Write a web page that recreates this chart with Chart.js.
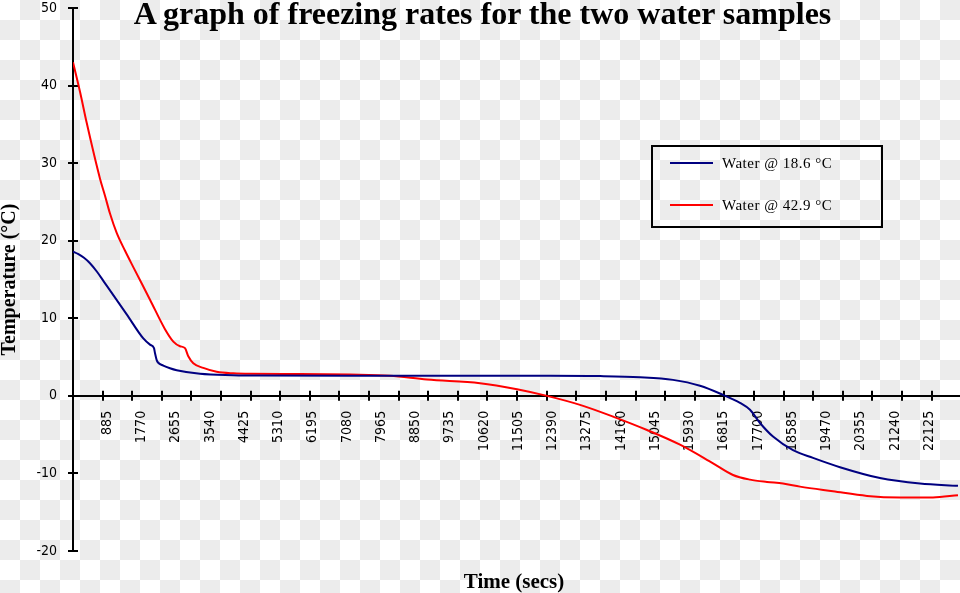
<!DOCTYPE html>
<html>
<head>
<meta charset="utf-8">
<script src="https://cdn.jsdelivr.net/npm/chart.js@4/dist/chart.umd.min.js"></script>
<style>
html,body{margin:0;padding:0;}
body{width:960px;height:593px;overflow:hidden;position:relative;
  background-color:#fff;
  background-image:conic-gradient(#ececec 0 25%, #fff 0 50%, #ececec 0 75%, #fff 0);
  background-size:40px 40px;}
#c{position:absolute;left:0;top:0;}
#title{position:absolute;left:0;width:965px;top:-3px;text-align:center;
  font:bold 32px/32px 'Liberation Serif','Times New Roman',serif;color:#000;white-space:nowrap;}
#xtitle{position:absolute;left:414px;width:200px;top:571px;text-align:center;
  font:bold 21px/21px 'Liberation Serif','Times New Roman',serif;color:#000;white-space:nowrap;}
#legend{position:absolute;left:651px;top:145px;width:232px;height:83px;box-sizing:border-box;border:2px solid #000;}
.item{position:absolute;left:0;height:26px;display:flex;align-items:center;white-space:nowrap;}
.sw{width:43px;height:2px;margin-left:17px;}
.lt{margin-left:9px;font:15px/26px 'Liberation Serif','Times New Roman',serif;letter-spacing:0.5px;color:#000;}
</style>
</head>
<body>
<canvas id="c" width="960" height="593"></canvas>
<div id="title"></div>
<div id="xtitle"></div>
<div id="legend"></div>
<script>
// ---- data ----
const chartTitle = 'A graph of freezing rates for the two water samples';
const xAxisTitle = 'Time (secs)';
const yAxisTitle = 'Temperature (°C)';
const seriesNames = ['Water @ 18.6 °C', 'Water @ 42.9 °C'];

// time (s) and temperature (°C) of the 18.6 °C sample
const coolTimes = [0, 129, 284, 439, 620, 801, 956, 1388, 1817, 1990, 2093, 2119, 2163, 2196, 2333, 2506, 2680, 3282, 4134, 4832, 7158, 9742, 12326, 13618, 14651, 15504, 16202, 16796, 17235, 17494, 17752, 18088, 18605, 19122, 19819, 20853, 21886, 22868];
const coolTemps = [18.6, 18.3, 17.8, 17.1, 16.0, 14.7, 13.6, 10.5, 7.4, 6.6, 6.15, 5.5, 4.6, 4.3, 3.9, 3.55, 3.3, 2.84, 2.67, 2.62, 2.6, 2.6, 2.6, 2.55, 2.4, 2.06, 1.3, 0.13, -0.9, -1.8, -3.5, -5.25, -7.0, -8.0, -9.2, -10.6, -11.3, -11.6];

// time (s) and temperature (°C) of the 42.9 °C sample
const warmTimes = [0, 181, 354, 698, 827, 956, 1129, 1345, 1558, 1990, 2377, 2592, 2765, 2894, 2979, 3109, 3367, 3713, 4142, 4574, 5866, 7158, 8191, 9147, 10517, 11473, 12248, 13101, 13954, 14832, 15685, 16538, 17054, 17494, 17933, 18346, 18786, 19638, 20517, 21370, 22222, 22868];
const warmTemps = [43.0, 39.2, 35.2, 28.0, 25.8, 23.5, 21.0, 18.7, 16.6, 12.4, 8.6, 7.0, 6.4, 6.15, 5.1, 4.2, 3.6, 3.1, 2.9, 2.84, 2.82, 2.75, 2.6, 2.1, 1.64, 0.86, 0, -1.16, -2.67, -4.4, -6.3, -8.7, -10.2, -10.8, -11.1, -11.3, -11.7, -12.3, -12.9, -13.1, -13.1, -12.8];

const seriesColors = ['#000080', '#ff0000'];

// axes
const xMin = 0, xMax = 22920;
const xLabelStep = 885;      // labelled ticks 885 ... 22125
const xMarkStep = 765;       // unlabelled tick marks on the axis line
const yMin = -20, yMax = 50, yStep = 10;

const tickFont = "'DejaVu Sans Condensed','DejaVu Sans',sans-serif";
const serif = "'Liberation Serif','Times New Roman',serif";

function pairs(xs, ys) { return xs.map((x, i) => ({x: x, y: ys[i]})); }
function stepTicks(step) {
  return function (scale) {
    const t = [];
    for (let v = xMin + step; v <= xMax; v += step) t.push({value: v});
    scale.ticks = t;
  };
}
function noPad(s) { s.paddingTop = 0; s.paddingBottom = 0; s.paddingLeft = 0; s.paddingRight = 0; }

const crossTicks = {
  id: 'crossTicks',
  beforeDatasetsDraw(chart) {
    const ctx = chart.ctx;
    const ys = chart.scales.y;
    const xm = chart.scales.xMarks;
    const y0 = ys.getPixelForValue(0);
    const left = chart.chartArea.left;
    ctx.save();
    ctx.strokeStyle = '#000';
    ctx.lineWidth = 2;
    ctx.beginPath();
    xm.ticks.forEach(t => {
      const px = Math.round(xm.getPixelForValue(t.value));
      ctx.moveTo(px, y0 - 5); ctx.lineTo(px, y0 + 5);
    });
    ys.ticks.forEach(t => {
      const py = Math.round(ys.getPixelForValue(t.value));
      ctx.moveTo(left - 5, py); ctx.lineTo(left + 5, py);
    });
    ctx.stroke();
    ctx.restore();
  }
};

const chart = new Chart(document.getElementById('c'), {
  type: 'line',
  data: {
    datasets: [
      {label: seriesNames[0], data: pairs(coolTimes, coolTemps), borderColor: seriesColors[0], backgroundColor: seriesColors[0],
       borderWidth: 2, pointRadius: 0, fill: false, cubicInterpolationMode: 'monotone'},
      {label: seriesNames[1], data: pairs(warmTimes, warmTemps), borderColor: seriesColors[1], backgroundColor: seriesColors[1],
       borderWidth: 2, pointRadius: 0, fill: false, cubicInterpolationMode: 'monotone'}
    ]
  },
  options: {
    responsive: false,
    animation: false,
    events: [],
    layout: {padding: {top: 8, bottom: 42, left: 0, right: 0}},
    plugins: {legend: {display: false}, tooltip: {enabled: false}, title: {display: false}},
    scales: {
      x: {
        type: 'linear', position: {y: 0}, min: xMin, max: xMax,
        afterBuildTicks: stepTicks(xLabelStep),
        afterFit: noPad,
        ticks: {autoSkip: false, minRotation: 90, maxRotation: 90,
                padding: 15, color: '#000', font: {family: tickFont, size: 14},
                callback: v => String(v)},
        grid: {display: false, drawTicks: false},
        border: {display: true, color: '#000', width: 2}
      },
      xMarks: {
        type: 'linear', axis: 'x', position: {y: 0}, min: xMin, max: xMax,
        afterBuildTicks: stepTicks(xMarkStep),
        afterFit: noPad,
        ticks: {display: false},
        grid: {display: false, drawTicks: false},
        border: {display: false}
      },
      y: {
        type: 'linear', position: 'left', min: yMin, max: yMax,
        ticks: {stepSize: yStep, padding: 16, color: '#000', font: {family: tickFont, size: 14}},
        grid: {display: false, drawTicks: false},
        border: {display: true, color: '#000', width: 2},
        title: {display: true, text: yAxisTitle, color: '#000', padding: 0,
                font: {family: serif, size: 20, weight: 'bold', lineHeight: 1}},
        afterFit(s) { s.width = 73; noPad(s); }
      }
    }
  },
  plugins: [crossTicks]
});

document.getElementById('title').textContent = chartTitle;
document.getElementById('xtitle').textContent = xAxisTitle;
const lg = document.getElementById('legend');
chart.data.datasets.forEach((ds, i) => {
  const it = document.createElement('div');
  it.className = 'item';
  it.style.top = (3 + 42 * i) + 'px';
  const sw = document.createElement('span'); sw.className = 'sw'; sw.style.background = ds.borderColor;
  const tx = document.createElement('span'); tx.className = 'lt'; tx.textContent = ds.label;
  it.appendChild(sw); it.appendChild(tx); lg.appendChild(it);
});
</script>
</body>
</html>
